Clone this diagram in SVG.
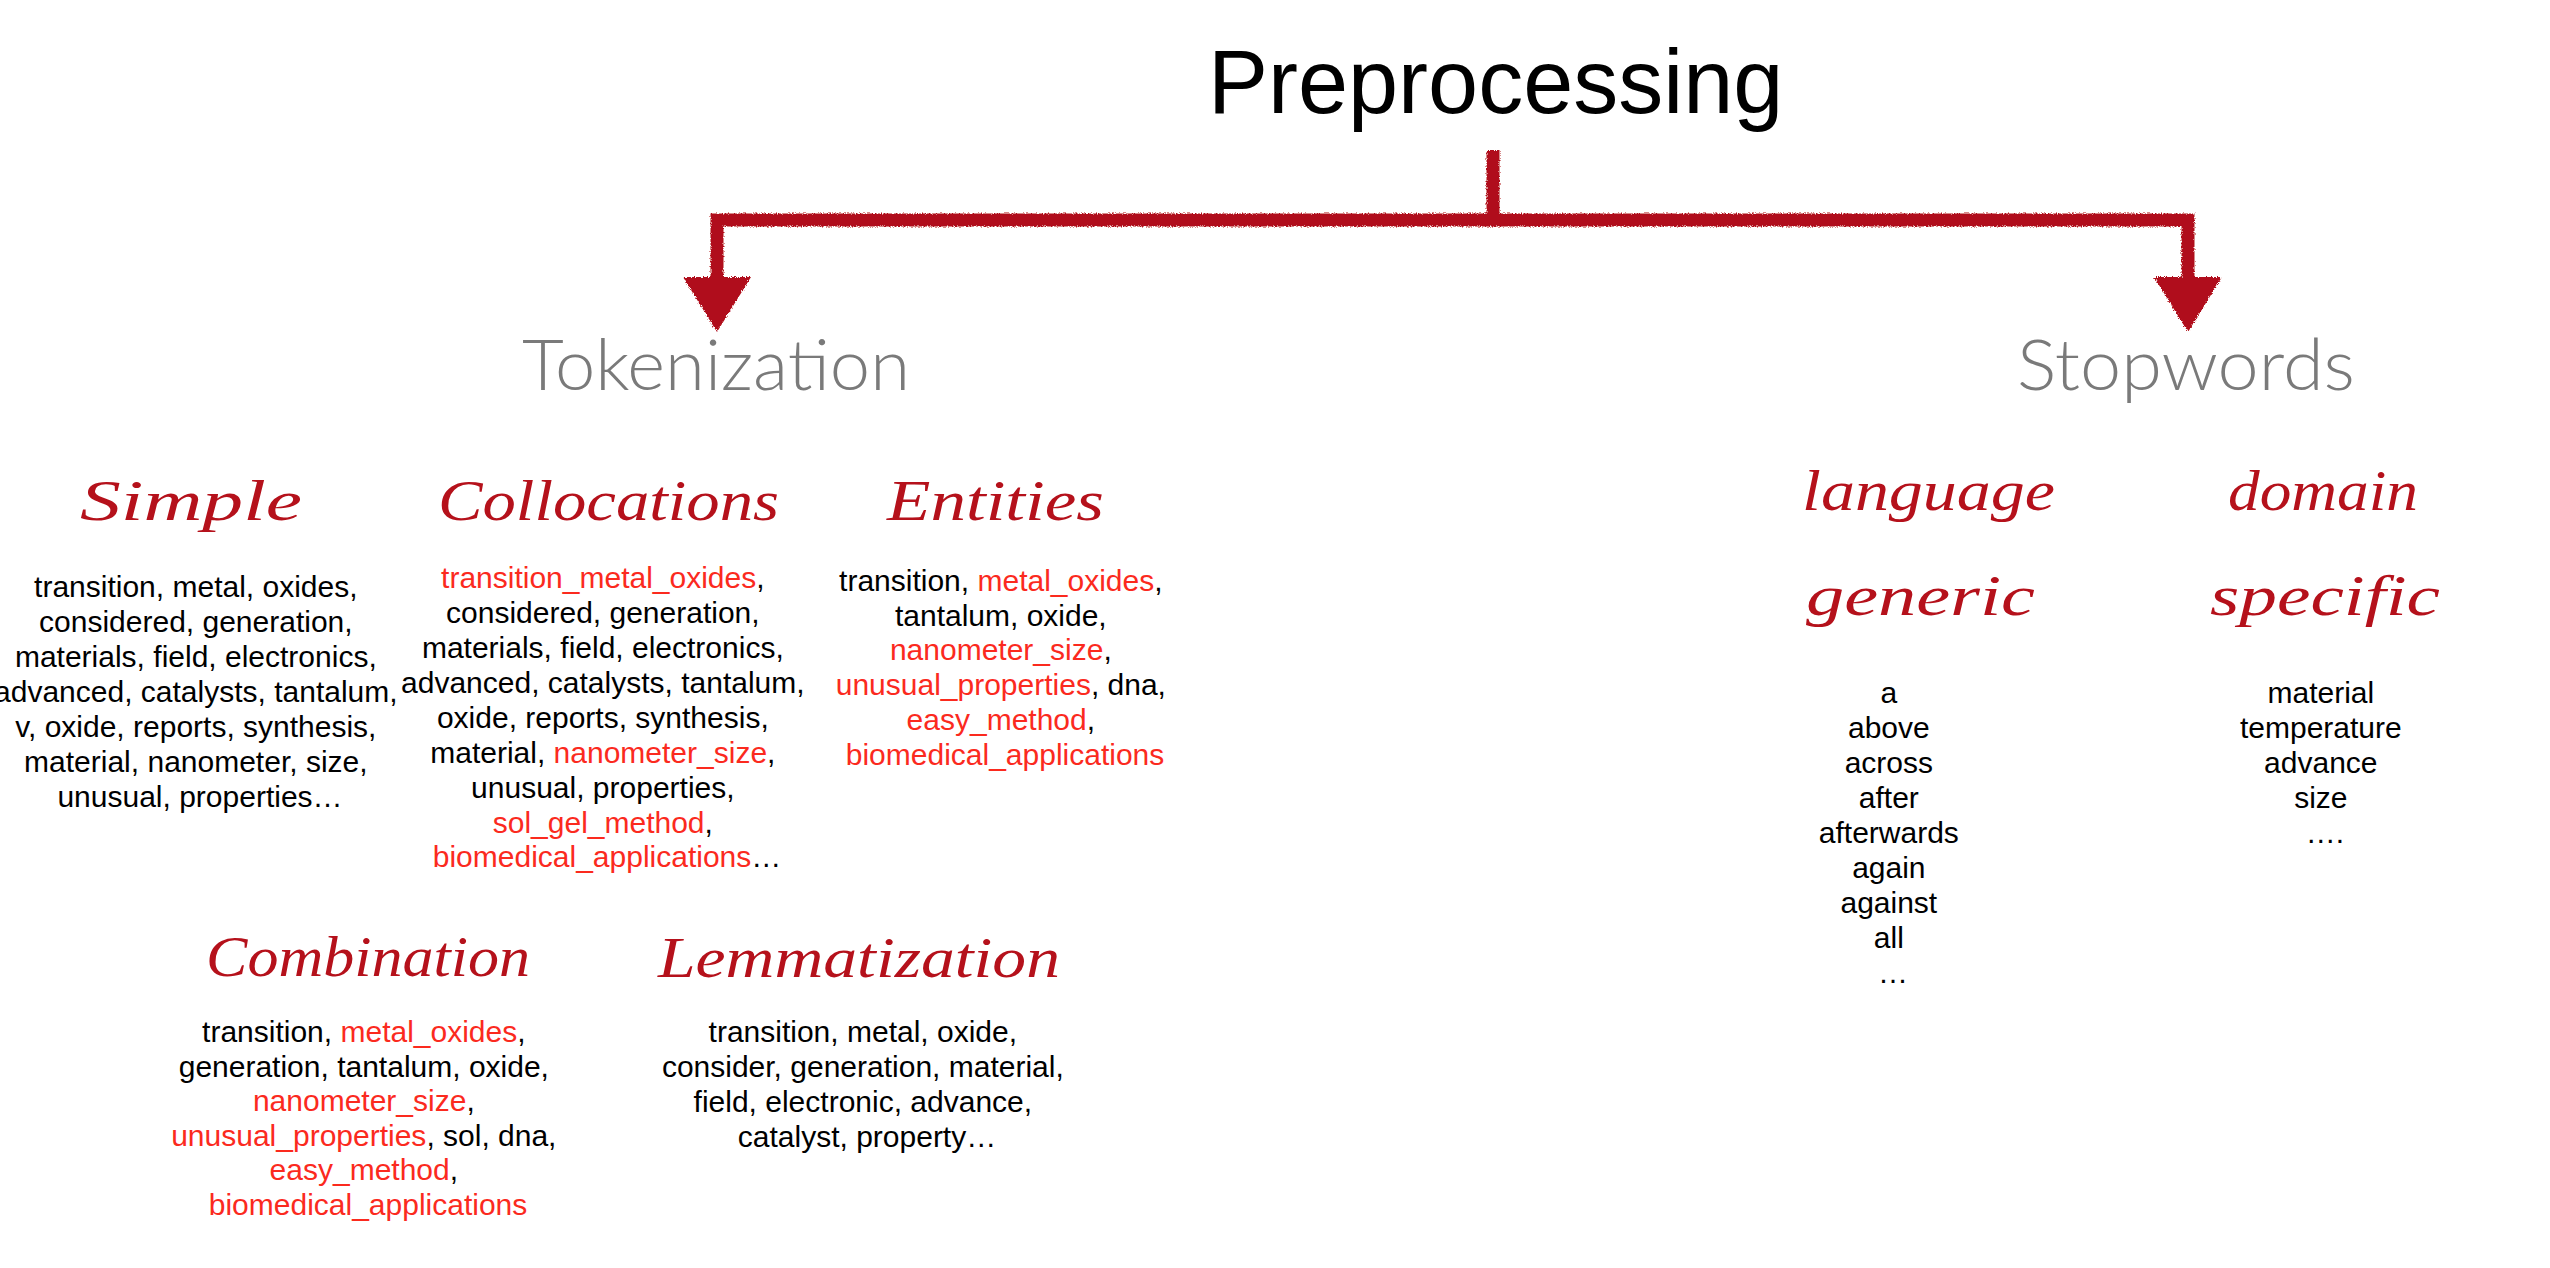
<svg xmlns="http://www.w3.org/2000/svg" width="2550" height="1268" viewBox="0 0 2550 1268">
<style>
.title{font-family:"Liberation Sans",Arial,sans-serif;font-size:90px;fill:#000}
.branch{font-family:"Lato","Liberation Sans",sans-serif;font-weight:300;font-size:70px;fill:#7a7a7a}
.script{font-family:"Liberation Serif",serif;font-style:italic;font-size:56px;fill:#b5111b}
.list{font-family:"Liberation Sans",Arial,sans-serif;font-size:30px;fill:#000;text-anchor:middle}
.r{fill:#fb2a1e}
.conn{fill:none;stroke:#b0101a;stroke-width:13;stroke-linecap:butt;stroke-linejoin:miter}
</style>
<defs>
<filter id="chalk" filterUnits="userSpaceOnUse" x="600" y="130" width="1700" height="220">
<feTurbulence type="fractalNoise" baseFrequency="0.8" numOctaves="2" seed="4" result="n"/>
<feDisplacementMap in="SourceGraphic" in2="n" scale="4" xChannelSelector="R" yChannelSelector="G"/>
</filter>
<marker id="head" markerUnits="userSpaceOnUse" viewBox="-14 -35 57 70" refX="0" refY="0" markerWidth="57" markerHeight="70" orient="auto">
<polygon points="-13,-34 -13,34 42,0" fill="#b0101a"/>
</marker>
</defs>
<rect width="2550" height="1268" fill="#fff"/>

<g id="connectors" filter="url(#chalk)">
<path class="conn" d="M1493,150 V220"/>
<path class="conn" d="M1493,220 H717 V290" marker-end="url(#head)"/>
<path class="conn" d="M1493,220 H2188 V290" marker-end="url(#head)"/>
</g>

<g id="preprocessing"><text class="title" x="1208" y="113">Preprocessing</text></g>
<g id="tokenization"><text class="branch" x="522" y="390" textLength="388" lengthAdjust="spacingAndGlyphs">Tokenization</text></g>
<g id="stopwords"><text class="branch" x="2017" y="390" textLength="338" lengthAdjust="spacingAndGlyphs">Stopwords</text></g>

<g id="simple">
<text class="script" x="80" y="520" textLength="222" lengthAdjust="spacingAndGlyphs">Simple</text>
<text class="list">
<tspan x="200" y="597">transition, metal, oxides,</tspan>
<tspan x="200" y="632">considered, generation,</tspan>
<tspan x="200" y="667">materials, field, electronics,</tspan>
<tspan x="200" y="702">advanced, catalysts, tantalum,</tspan>
<tspan x="200" y="737">v, oxide, reports, synthesis,</tspan>
<tspan x="200" y="772">material, nanometer, size,</tspan>
<tspan x="200" y="807">unusual, properties…</tspan>
</text>
</g>

<g id="collocations">
<text class="script" x="438" y="520" textLength="341" lengthAdjust="spacingAndGlyphs">Collocations</text>
<text class="list">
<tspan x="607" y="588"><tspan class="r">transition_metal_oxides</tspan>,</tspan>
<tspan x="607" y="623">considered, generation,</tspan>
<tspan x="607" y="658">materials, field, electronics,</tspan>
<tspan x="607" y="693">advanced, catalysts, tantalum,</tspan>
<tspan x="607" y="728">oxide, reports, synthesis,</tspan>
<tspan x="607" y="763">material, <tspan class="r">nanometer_size</tspan>,</tspan>
<tspan x="607" y="798">unusual, properties,</tspan>
<tspan x="607" y="833"><tspan class="r">sol_gel_method</tspan>,</tspan>
<tspan x="607" y="867"><tspan class="r">biomedical_applications</tspan>…</tspan>
</text>
</g>

<g id="entities">
<text class="script" x="887" y="520" textLength="217" lengthAdjust="spacingAndGlyphs">Entities</text>
<text class="list">
<tspan x="1005" y="591">transition, <tspan class="r">metal_oxides</tspan>,</tspan>
<tspan x="1005" y="626">tantalum, oxide,</tspan>
<tspan x="1005" y="660"><tspan class="r">nanometer_size</tspan>,</tspan>
<tspan x="1005" y="695"><tspan class="r">unusual_properties</tspan>, dna,</tspan>
<tspan x="1005" y="730"><tspan class="r">easy_method</tspan>,</tspan>
<tspan x="1005" y="765" class="r">biomedical_applications</tspan>
</text>
</g>

<g id="combination">
<text class="script" x="206" y="976" textLength="324" lengthAdjust="spacingAndGlyphs">Combination</text>
<text class="list">
<tspan x="368" y="1042">transition, <tspan class="r">metal_oxides</tspan>,</tspan>
<tspan x="368" y="1077">generation, tantalum, oxide,</tspan>
<tspan x="368" y="1111"><tspan class="r">nanometer_size</tspan>,</tspan>
<tspan x="368" y="1146"><tspan class="r">unusual_properties</tspan>, sol, dna,</tspan>
<tspan x="368" y="1180"><tspan class="r">easy_method</tspan>,</tspan>
<tspan x="368" y="1215" class="r">biomedical_applications</tspan>
</text>
</g>

<g id="lemmatization">
<text class="script" x="658" y="977" textLength="402" lengthAdjust="spacingAndGlyphs">Lemmatization</text>
<text class="list">
<tspan x="867" y="1042">transition, metal, oxide,</tspan>
<tspan x="867" y="1077">consider, generation, material,</tspan>
<tspan x="867" y="1112">field, electronic, advance,</tspan>
<tspan x="867" y="1147">catalyst, property…</tspan>
</text>
</g>

<g id="language-generic">
<text class="script" x="1802" y="510" textLength="253" lengthAdjust="spacingAndGlyphs">language</text>
<text class="script" x="1806" y="615" textLength="229" lengthAdjust="spacingAndGlyphs">generic</text>
<text class="list">
<tspan x="1893" y="703">a</tspan>
<tspan x="1893" y="738">above</tspan>
<tspan x="1893" y="773">across</tspan>
<tspan x="1893" y="808">after</tspan>
<tspan x="1893" y="843">afterwards</tspan>
<tspan x="1893" y="878">again</tspan>
<tspan x="1893" y="913">against</tspan>
<tspan x="1893" y="948">all</tspan>
<tspan x="1893" y="983">…</tspan>
</text>
</g>

<g id="domain-specific">
<text class="script" x="2228" y="510" textLength="190" lengthAdjust="spacingAndGlyphs">domain</text>
<text class="script" x="2210" y="615" textLength="230" lengthAdjust="spacingAndGlyphs">specific</text>
<text class="list">
<tspan x="2325" y="703">material</tspan>
<tspan x="2325" y="738">temperature</tspan>
<tspan x="2325" y="773">advance</tspan>
<tspan x="2325" y="808">size</tspan>
<tspan x="2325" y="843">….</tspan>
</text>
</g>
</svg>
